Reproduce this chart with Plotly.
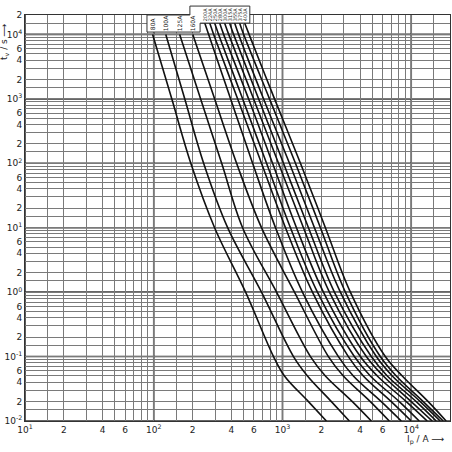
import numpy as np
import plotly.graph_objects as go

# ---------------- data ----------------
# times (s) at which the currents were read
T_LOW = [1e4, 1e3, 1e2, 10, 1, 0.1, 0.05, 0.02, 0.01]
T_UP = [1.5e4, 1e4, 1e3, 1e2, 10, 1, 0.1, 0.05, 0.02, 0.01]

LOW_LABELS = ["80A", "100A", "125A", "160A"]
I_80 = [98, 138, 194, 297, 517, 852, 1036, 1591, 2193]
I_100 = [124, 174, 244, 375, 687, 1217, 1563, 2398, 3306]
I_125 = [159, 231, 337, 490, 899, 1649, 2154, 3489, 4897]
I_160 = [201, 297, 440, 687, 1239, 2273, 2971, 4811, 6753]

UP_LABELS = ["200A", "224A", "250A", "280A", "300A", "315A", "355A", "375A", "400A"]
I_200 = [249, 267, 395, 586, 883, 1429, 2718, 3552, 5855, 8367]
I_224 = [272, 292, 448, 687, 1055, 1709, 3248, 4246, 6998, 10000]
I_250 = [297, 319, 490, 752, 1153, 1868, 3615, 4811, 8073, 11535]
I_280 = [325, 349, 545, 837, 1284, 2079, 4025, 5451, 9147, 13305]
I_300 = [355, 382, 596, 931, 1455, 2314, 4479, 6067, 10000, 14551]
I_315 = [388, 417, 652, 1018, 1591, 2530, 4897, 6516, 10935, 15630]
I_355 = [425, 456, 712, 1133, 1771, 2816, 5355, 7124, 11745, 16785]
I_375 = [464, 499, 793, 1261, 1971, 3079, 5750, 7650, 12390, 17706]
I_400 = [508, 550, 867, 1379, 2154, 3366, 6286, 8516, 13545, 18673]

LOW_CURVES = [I_80, I_100, I_125, I_160]
UP_CURVES = [I_200, I_224, I_250, I_280, I_300, I_315, I_355, I_375, I_400]

X_TICKS = [10, 20, 40, 60, 100, 200, 400, 600, 1000, 2000, 4000, 6000, 10000, 20000]
X_TICKTEXT = ["10<sup>1</sup>", "2", "4", "6", "10<sup>2</sup>", "2", "4", "6",
              "10<sup>3</sup>", "2", "4", "6", "10<sup>4</sup>", "2"]
Y_TICKS = [0.01, 0.02, 0.04, 0.06, 0.1, 0.2, 0.4, 0.6, 1, 2, 4, 6, 10, 20, 40, 60,
           100, 200, 400, 600, 1000, 2000, 4000, 6000, 10000, 20000]
Y_TICKTEXT = ["10<sup>-2</sup>", "2", "4", "6", "10<sup>-1</sup>", "2", "4", "6",
              "10<sup>0</sup>", "2", "4", "6", "10<sup>1</sup>", "2", "4", "6",
              "10<sup>2</sup>", "2", "4", "6", "10<sup>3</sup>", "2", "4", "6",
              "10<sup>4</sup>", "2"]
MINOR_MULT = [1.5, 3, 5, 7, 8, 9]

# ---------------- figure ----------------
FONT = "DejaVu Sans"
fig = go.Figure()
for lab, cur in zip(LOW_LABELS, LOW_CURVES):
    fig.add_trace(go.Scatter(x=cur, y=T_LOW, mode="lines", name=lab,
                             line=dict(color="#111111", width=1.6, shape="spline", smoothing=1.0),
                             showlegend=False))
for lab, cur in zip(UP_LABELS, UP_CURVES):
    fig.add_trace(go.Scatter(x=cur, y=T_UP, mode="lines", name=lab,
                             line=dict(color="#111111", width=1.6, shape="spline", smoothing=1.0),
                             showlegend=False))

minor_x = [m * 10 ** d for d in range(1, 5) for m in MINOR_MULT if m * 10 ** d < 20000]
minor_y = [m * 10 ** d for d in range(-2, 5) for m in MINOR_MULT if m * 10 ** d < 20000]

GRID = "#7a7a7a"
fig.update_xaxes(type="log", range=[1, np.log10(20000)], automargin=False,
                 tickmode="array", tickvals=X_TICKS, ticktext=X_TICKTEXT,
                 showgrid=True, gridcolor=GRID, gridwidth=1, ticks="",
                 minor=dict(tickmode="array", tickvals=minor_x, showgrid=True,
                            gridcolor=GRID, gridwidth=1, ticks=""),
                 showline=True, linecolor="#333333", linewidth=1, mirror=True,
                 zeroline=False, tickfont=dict(family=FONT, size=9, color="#222222"))
fig.update_yaxes(type="log", range=[-2, np.log10(20000)], automargin=False,
                 tickmode="array", tickvals=Y_TICKS, ticktext=Y_TICKTEXT,
                 showgrid=True, gridcolor=GRID, gridwidth=1, ticks="",
                 minor=dict(tickmode="array", tickvals=minor_y, showgrid=True,
                            gridcolor=GRID, gridwidth=1, ticks=""),
                 showline=True, linecolor="#333333", linewidth=1, mirror=True,
                 zeroline=False, tickfont=dict(family=FONT, size=9, color="#222222"))

# darker decade lines
shapes = []
for d in range(1, 5):
    shapes.append(dict(type="line", xref="x", yref="paper", x0=10 ** d, x1=10 ** d, y0=0, y1=1,
                       line=dict(color="#333333", width=1.6), layer="below"))
for d in range(-2, 5):
    shapes.append(dict(type="line", xref="paper", yref="y", x0=0, x1=1, y0=10 ** d, y1=10 ** d,
                       line=dict(color="#333333", width=1.6), layer="below"))

# label box outline (paper coordinates)
box = "M 0.287 0.958 L 0.287 1.0 L 0.388 1.0 L 0.388 1.022 L 0.529 1.022 L 0.529 0.980 L 0.412 0.980 L 0.412 0.958 Z"
shapes.append(dict(type="path", xref="paper", yref="paper", path=box,
                   line=dict(color="#333333", width=1), fillcolor="white", layer="above"))
fig.update_layout(shapes=shapes)

annotations = []
for lab, cur in zip(LOW_LABELS, LOW_CURVES):
    annotations.append(dict(x=np.log10(cur[0]), xref="x", y=0.979, yref="paper", text=lab,
                            textangle=-90, showarrow=False, xanchor="center", yanchor="middle",
                            font=dict(family=FONT, size=6, color="#222222")))
for lab, cur in zip(UP_LABELS, UP_CURVES):
    annotations.append(dict(x=np.log10(cur[0]), xref="x", y=1.001, yref="paper", text=lab,
                            textangle=-90, showarrow=False, xanchor="center", yanchor="middle",
                            font=dict(family=FONT, size=5, color="#222222")))
annotations.append(dict(x=-0.048, xref="paper", y=0.935, yref="paper",
                        text="t<sub>v</sub> / s ⟶", textangle=-90, showarrow=False,
                        xanchor="center", yanchor="middle",
                        font=dict(family=FONT, size=9, color="#222222")))
annotations.append(dict(x=0.99, xref="paper", y=-0.047, yref="paper",
                        text="I<sub>p</sub> / A ⟶", showarrow=False,
                        xanchor="right", yanchor="middle",
                        font=dict(family=FONT, size=9, color="#222222")))
fig.update_layout(annotations=annotations)

fig.update_layout(width=452, height=452, margin=dict(l=25, r=2, t=15, b=31),
                  paper_bgcolor="white", plot_bgcolor="white", showlegend=False)

fig.write_html("out.html", config={"displayModeBar": False},
               post_script="document.body.style.margin='0px';document.body.style.padding='0px';")
